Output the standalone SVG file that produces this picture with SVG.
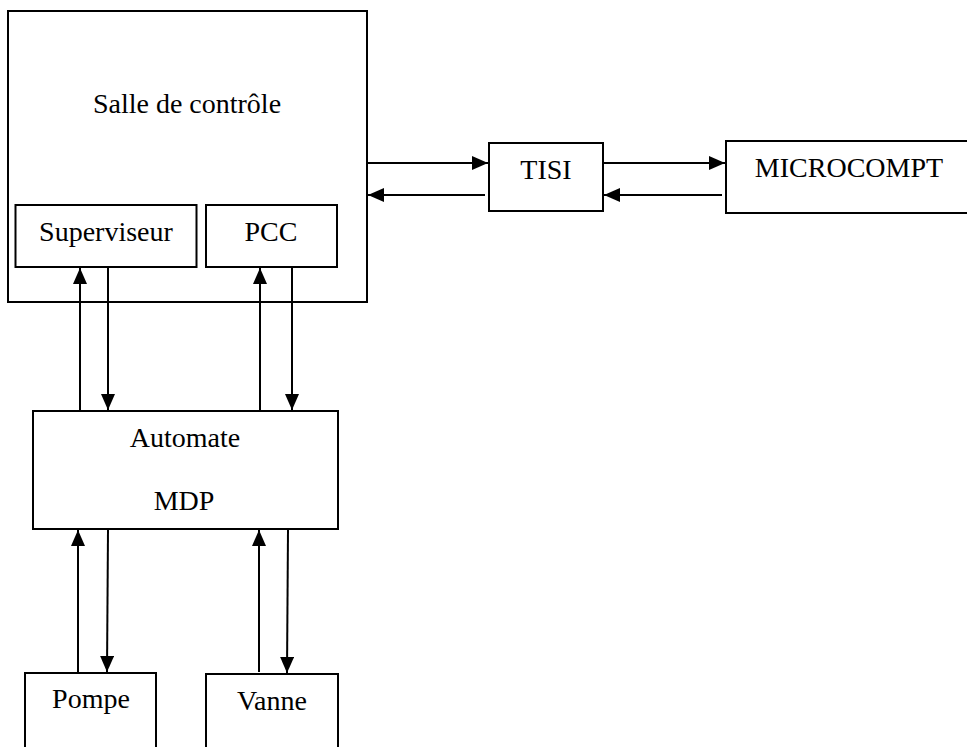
<svg xmlns="http://www.w3.org/2000/svg" width="967" height="747" viewBox="0 0 967 747">
<style>
.box{fill:#fff;stroke:#000;stroke-width:2}
.lbl{font-family:"Liberation Serif","Times New Roman",serif;font-size:28px;fill:#000;text-anchor:middle}
.c{stroke:#000;stroke-width:2;fill:none;marker-end:url(#ah)}
</style>
<defs>
<marker id="ah" viewBox="0 0 16 14" refX="16" refY="7" markerWidth="16" markerHeight="14" markerUnits="userSpaceOnUse" orient="auto">
<path d="M0,0 L16,7 L0,14 Z" fill="#000"/>
</marker>
</defs>
<rect width="967" height="747" fill="#fff"/>
<g id="salle">
<rect class="box" x="8" y="11" width="359" height="291"/>
<text class="lbl" x="187" y="113">Salle de contrôle</text>
</g>
<g id="superviseur">
<rect class="box" x="15.5" y="205" width="181" height="62"/>
<text class="lbl" x="106" y="241">Superviseur</text>
</g>
<g id="pcc">
<rect class="box" x="206" y="205" width="131" height="62"/>
<text class="lbl" x="271" y="241">PCC</text>
</g>
<g id="tisi">
<rect class="box" x="489" y="143" width="114" height="68"/>
<text class="lbl" x="546" y="179">TISI</text>
</g>
<g id="microcompt">
<rect class="box" x="726" y="141" width="260" height="72"/>
<text class="lbl" x="849" y="177">MICROCOMPT</text>
</g>
<g id="automate">
<rect class="box" x="33" y="411" width="305" height="118"/>
<text class="lbl" x="185" y="447">Automate</text>
<text class="lbl" x="184" y="510">MDP</text>
</g>
<g id="pompe">
<rect class="box" x="25" y="673" width="131" height="90"/>
<text class="lbl" x="91" y="708">Pompe</text>
</g>
<g id="vanne">
<rect class="box" x="206" y="674" width="132" height="90"/>
<text class="lbl" x="272" y="710">Vanne</text>
</g>
<g id="connectors">
<line class="c" x1="80" y1="411" x2="80" y2="268"/>
<line class="c" x1="108" y1="267" x2="108" y2="410"/>
<line class="c" x1="260" y1="411" x2="260" y2="268"/>
<line class="c" x1="292" y1="267" x2="292" y2="410"/>
<line class="c" x1="367" y1="163" x2="488" y2="163"/>
<line class="c" x1="485" y1="195" x2="368" y2="195"/>
<line class="c" x1="603" y1="163" x2="725" y2="163"/>
<line class="c" x1="722" y1="195" x2="604" y2="195"/>
<line class="c" x1="78" y1="673" x2="78" y2="530"/>
<line class="c" x1="108" y1="530" x2="107" y2="672"/>
<line class="c" x1="259" y1="672" x2="259" y2="530"/>
<line class="c" x1="288" y1="530" x2="287" y2="673"/>
</g>
</svg>
